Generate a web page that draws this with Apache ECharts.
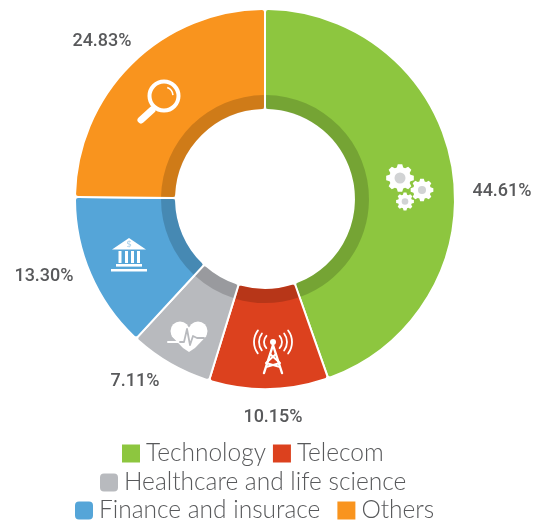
<!DOCTYPE html>
<html>
<head>
<meta charset="utf-8">
<style>html,body{margin:0;padding:0;background:#fff}#chart{width:541px;height:523px}</style>
<script src="https://cdn.jsdelivr.net/npm/echarts@6/dist/echarts.min.js"></script>
</head>
<body>
<div id="chart"></div>
<script>
var categories = ['Technology', 'Telecom', 'Healthcare and life science', 'Finance and insurace', 'Others'];
var shares = [44.61, 10.15, 7.11, 13.30, 24.83];
var colors = ['#8dc63f', '#dc411e', '#b8babe', '#55a5d8', '#f9941e'];
var labelSpots = [[502, 191], [273, 417], [135, 381], [44, 276], [102, 41]];

var pieData = categories.map(function (name, i) {
    return {name: name, value: shares[i], itemStyle: {color: colors[i]}};
});

// dark inner ring: same shares with a small see-through piece between them
var ringGap = 0.33;
var ringData = [];
shares.forEach(function (v) {
    ringData.push({value: v - ringGap, itemStyle: {color: 'rgba(0,0,0,0.17)'}});
    ringData.push({value: ringGap, itemStyle: {color: 'rgba(0,0,0,0)'}});
});

// gear outline, only decoration
function gear(cx, cy, r, inner) {
    var pts = [], n = 8;
    for (var i = 0; i < n; i++) {
        var a = i * 2 * Math.PI / n, w = 0.2;
        [[a - w * 1.5, r * 0.78], [a - w * 0.8, r], [a + w * 0.8, r], [a + w * 1.5, r * 0.78]].forEach(function (p) {
            pts.push([cx + p[1] * Math.cos(p[0]), cy + p[1] * Math.sin(p[0])]);
        });
    }
    return [
        {type: 'polygon', shape: {points: pts}, style: {fill: '#fff'}},
        {type: 'circle', shape: {cx: cx, cy: cy, r: inner}, style: {fill: '#d1d3d4'}}
    ];
}
function line(pts, color, w) {
    return {type: 'polyline', shape: {points: pts}, style: {stroke: color, lineWidth: w, fill: null, lineCap: 'round', lineJoin: 'round'}};
}
function box(x, y, w, h) {
    return {type: 'rect', shape: {x: x, y: y, width: w, height: h}, style: {fill: '#fff'}};
}
function arc(cx, cy, r, a, b) {
    return {type: 'arc', shape: {cx: cx, cy: cy, r: r, startAngle: a, endAngle: b, clockwise: true},
        style: {stroke: '#fff', fill: null, lineWidth: 1.8, lineCap: 'round'}};
}

var icons = []
    .concat(gear(400, 178, 14, 5.5), gear(422, 190, 11.5, 4), gear(405, 201.5, 9, 3.3))
    // magnifier
    .concat([
        {type: 'circle', shape: {cx: 164, cy: 96, r: 14.5}, style: {fill: null, stroke: '#fff', lineWidth: 4}},
        line([[152, 110], [141, 120]], '#fff', 7),
        line([[153, 107], [152, 110]], '#fff', 3),
        {type: 'arc', shape: {cx: 164, cy: 96, r: 9, startAngle: -1.2, endAngle: -0.1, clockwise: true},
            style: {stroke: '#fff', fill: null, lineWidth: 1.6}}
    ])
    // bank
    .concat([
        {type: 'polygon', shape: {points: [[129, 238], [146, 249.5], [112, 249.5]]}, style: {fill: '#fff'}},
        {type: 'text', style: {x: 129, y: 244, text: '$', fill: '#a9cfe9', font: '9px "Noto Sans"', align: 'center', verticalAlign: 'middle'}},
        box(118.5, 251, 3, 12), box(125, 251, 3, 12), box(131, 251, 3, 12), box(137, 251, 3, 12),
        box(116, 264, 26, 2.6), box(111, 269, 36, 2.6)
    ])
    // heart
    .concat([
        {type: 'circle', shape: {cx: 180, cy: 331, r: 9.5}, style: {fill: '#fff'}},
        {type: 'circle', shape: {cx: 198, cy: 331, r: 9.5}, style: {fill: '#fff'}},
        {type: 'polygon', shape: {points: [[171.5, 336], [189, 327], [206.5, 336], [195, 348], [189, 352], [183, 348]]}, style: {fill: '#fff'}},
        line([[168, 342], [180, 342]], '#fff', 2),
        line([[180, 342], [184, 342], [187, 329], [190, 345], [193, 336], [197, 338], [204, 338]], '#b8babe', 1.8)
    ])
    // tower
    .concat([
        {type: 'circle', shape: {cx: 273, cy: 342, r: 3}, style: {fill: '#fff'}},
        line([[273, 345], [264, 373]], '#fff', 2.4),
        line([[273, 345], [282, 373]], '#fff', 2.4),
        line([[270, 354], [280, 363], [266, 367]], '#fff', 2),
        line([[276, 354], [266, 363], [280, 367]], '#fff', 2),
        arc(273, 342, 9, 2.4, 3.9), arc(273, 342, 14, 2.5, 3.8), arc(273, 342, 19, 2.5, 3.8),
        arc(273, 342, 9, -0.75, 0.75), arc(273, 342, 14, -0.65, 0.65), arc(273, 342, 19, -0.65, 0.65)
    ]);
icons.forEach(function (el) {
    el.silent = true;
    el.z = 100;
});

var legendFont = {fontFamily: 'Lato', fontSize: 24.5, fontWeight: 300, color: '#58595b'};
var myChart = echarts.init(document.getElementById('chart'), null, {renderer: 'canvas'});
var option = {
    animation: false,
    color: colors,
    legend: [
        {data: [{name: categories[0], icon: 'rect'}, {name: categories[1], icon: 'rect'}], top: 441, left: 120, itemGap: 5},
        {data: [{name: categories[2], icon: 'roundRect'}], top: 470, left: 98, itemGap: 9},
        {data: [{name: categories[3], icon: 'roundRect'}, {name: categories[4], icon: 'rect'}], top: 498, left: 73, itemGap: 15}
    ].map(function (l) {
        l.itemWidth = 20;
        l.itemHeight = 20;
        l.padding = 0;
        l.textStyle = legendFont;
        l.selectedMode = false;
        return l;
    }),
    series: [
        {
            name: 'share',
            type: 'pie',
            center: [265, 199],
            radius: [89, 190],
            startAngle: 90,
            clockwise: true,
            data: pieData,
            itemStyle: {borderColor: '#fff', borderWidth: 2, borderRadius: 3},
            label: {
                show: true,
                position: 'outside',
                formatter: function (p) { return shares[p.dataIndex].toFixed(2) + '%'; },
                fontFamily: 'Roboto',
                fontSize: 18,
                fontWeight: 500,
                color: '#58595b',
                overflow: 'none'
            },
            labelLine: {show: false},
            labelLayout: function (p) {
                return {x: labelSpots[p.dataIndex][0], y: labelSpots[p.dataIndex][1], align: 'center', verticalAlign: 'middle'};
            }
        },
        {
            name: 'ring',
            type: 'pie',
            silent: true,
            center: [265, 199],
            radius: [90, 104],
            startAngle: 90 - ringGap * 1.8,
            data: ringData,
            itemStyle: {borderWidth: 0},
            label: {show: false},
            labelLine: {show: false}
        }
    ],
    graphic: icons
};
myChart.setOption(option);
</script>
</body>
</html>
